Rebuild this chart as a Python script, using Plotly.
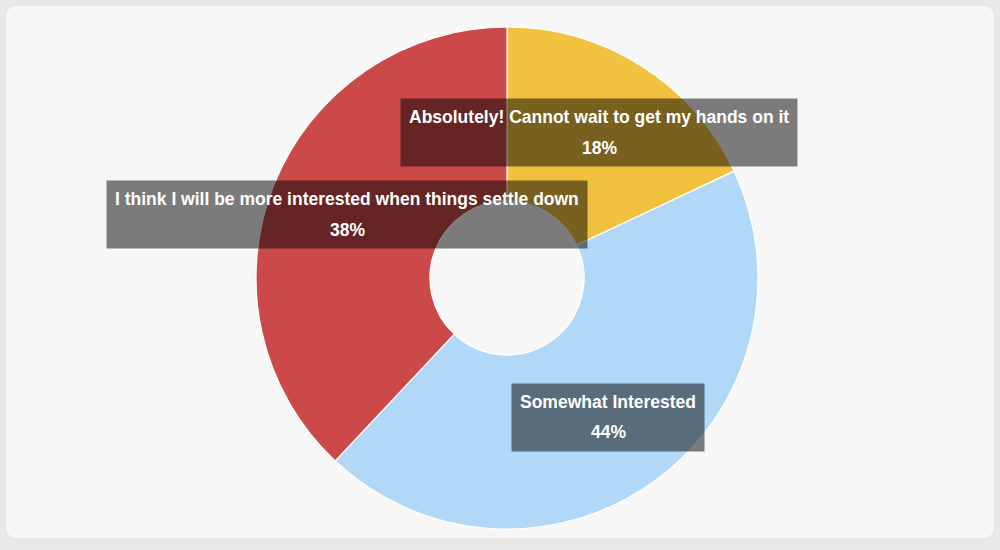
import math
import plotly.graph_objects as go

labels = [
    "Absolutely! Cannot wait to get my hands on it",
    "Somewhat Interested",
    "I think I will be more interested when things settle down",
]
values = [18, 44, 38]
colors = ["#f0c23f", "#b1d8f7", "#cb4a49"]

W, H = 1000, 550
CX, CY, R = 507, 278, 251  # pie centre / radius in px
HOLE = 0.307
LABEL_FRAC = 0.685

fig = go.Figure()
fig.add_trace(go.Pie(
    labels=labels, values=values, sort=False, direction="clockwise", rotation=0,
    hole=HOLE, marker=dict(colors=colors, line=dict(color="#ffffff", width=1.2)),
    textinfo="none", hoverinfo="label+percent", showlegend=False,
    domain=dict(x=[(CX - R) / W, (CX + R) / W], y=[(H - CY - R) / H, (H - CY + R) / H]),
))

# background panel with rounded corners
def rounded(x0, y0, x1, y1, r):
    X = lambda p: p / W
    Y = lambda p: 1 - p / H
    return (f"M {X(x0+r)} {Y(y0)} L {X(x1-r)} {Y(y0)} Q {X(x1)} {Y(y0)} {X(x1)} {Y(y0+r)} "
            f"L {X(x1)} {Y(y1-r)} Q {X(x1)} {Y(y1)} {X(x1-r)} {Y(y1)} "
            f"L {X(x0+r)} {Y(y1)} Q {X(x0)} {Y(y1)} {X(x0)} {Y(y1-r)} "
            f"L {X(x0)} {Y(y0+r)} Q {X(x0)} {Y(y0)} {X(x0+r)} {Y(y0)} Z")

shapes = [dict(type="path", xref="paper", yref="paper", path=rounded(6, 6, 994, 538, 12),
               fillcolor="#f7f7f7", line=dict(width=0), layer="below")]

FONT = dict(family="Arial", size=17.5, color="#ffffff")
annotations = []
total = sum(values)
cum = 0
for lab, v in zip(labels, values):
    mid = 2 * math.pi * (cum + v / 2) / total
    cum += v
    d = LABEL_FRAC * R
    xp = CX + d * math.sin(mid)
    yp = CY - d * math.cos(mid)
    ax, ay = xp / W, 1 - yp / H
    # label line inside its dark box
    annotations.append(dict(
        x=ax, y=ay, xref="paper", yref="paper", showarrow=False,
        text=f"<b>{lab}</b>", font=FONT,
        bgcolor="rgba(0,0,0,0.5)", borderpad=8, height=51, valign="top",
        xanchor="center", yanchor="middle",
    ))
    # percentage line
    annotations.append(dict(
        x=ax, y=ay, xref="paper", yref="paper", showarrow=False, yshift=-15,
        text=f"<b>{round(100 * v / total)}%</b>", font=FONT,
        xanchor="center", yanchor="middle",
    ))

fig.update_layout(
    width=W, height=H, margin=dict(l=0, r=0, t=0, b=0),
    paper_bgcolor="#e8e8e8", plot_bgcolor="#f7f7f7",
    shapes=shapes, annotations=annotations,
)
fig.write_html("out.html", config={"displayModeBar": False},
               post_script="document.body.style.margin='0';document.body.style.padding='0';")
